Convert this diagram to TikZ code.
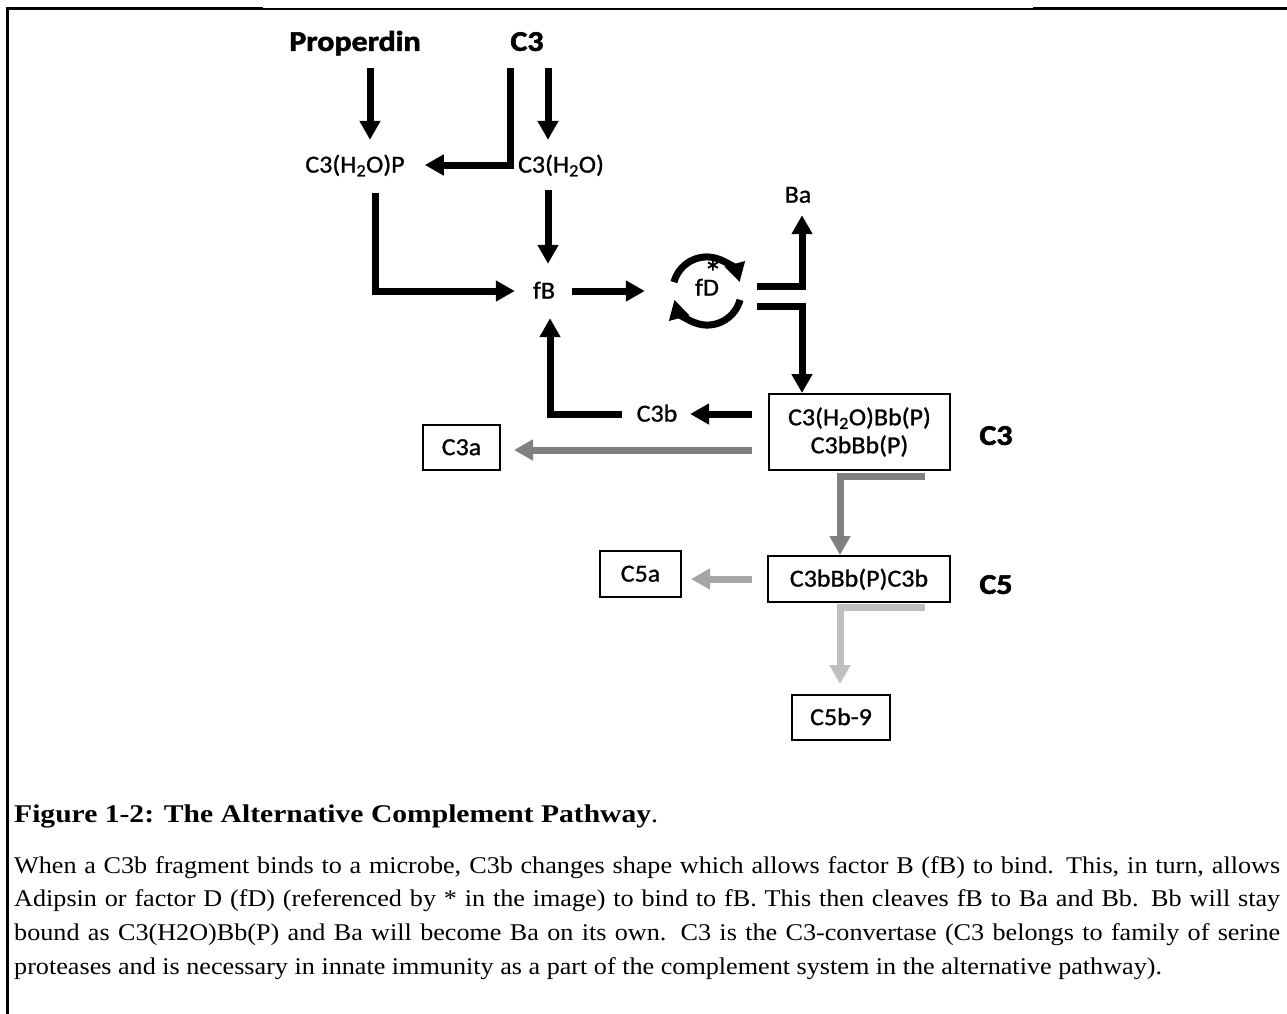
\documentclass[tikz,border=0pt]{standalone}
\usepackage{fontspec}
\usepackage{xcolor}
\usepackage{tikz}
\usetikzlibrary{arrows.meta,positioning}
\newfontfamily\diagfont[FakeStretch=1.06,FakeBold=1,BoldFeatures={FakeStretch=1.12,FakeBold=2}]{Carlito}
\newfontfamily\captfont[FakeStretch=1.09,BoldFeatures={FakeStretch=1.16}]{Liberation Serif}
\definecolor{MidGray}{HTML}{808080}
\definecolor{LightGray}{HTML}{A6A6A6}
\definecolor{PaleGray}{HTML}{BFBFBF}

\begin{document}
\begin{tikzpicture}[x=1pt,y=1pt,
  txt/.style={inner sep=0pt,text height=20pt,text depth=4.8pt,font=\diagfont\fontsize{24.5}{28}\selectfont},
  headtxt/.style={inner sep=0pt,text height=23pt,text depth=5.3pt,font=\diagfont\bfseries\fontsize{28.5}{32}\selectfont},
  pathbox/.style={draw,line width=2pt,inner sep=0pt,align=center,font=\diagfont\fontsize{24.5}{28}\selectfont},
  tagbox/.style={pathbox,text height=20pt,text depth=4.8pt},
  arrow/.style={-{Triangle[length=19pt,width=20pt]},line width=7pt}
]
\useasboundingbox (0,0) rectangle (1287,-1014);
\fill[white] (0,0) rectangle (1287,-1014);
% frame
\draw[line width=3pt] (7,-1014) -- (7,-9) -- (263,-9);
\draw[line width=1.8pt] (263,-9) -- (1033,-9);
\draw[line width=3pt] (1033,-9) -- (1287,-9);

% top sources
\node[headtxt] (prop) at (355,-42) {Properdin};
\node[headtxt] (c3top) at (527,-42) {C3};
\node[txt] (c3hp) at (355,-165) {C3(H\textsubscript{2}O)P};
\node[txt] (c3h) at (561,-165) {C3(H\textsubscript{2}O)};
\node[txt] (fb) at (544,-291) {fB};
\node[circle,inner sep=0pt,minimum size=68pt,text height=20pt,text depth=10.8pt,font=\diagfont\fontsize{24.5}{28}\selectfont] (fdc) at (707,-291) {fD\llap{\raisebox{11.5pt}{\fontsize{34}{34}\selectfont*}\kern-3pt}};
\node[txt] (ba) at (798,-195) {Ba};

% convertases
\node[pathbox,minimum width=181pt,minimum height=76pt] (box1) at (859.5,-432) {C3(H\textsubscript{2}O)Bb(P)\\C3bBb(P)};
\node[headtxt] (lc3) at (996,-436) {C3};
\node[txt] (c3b) at (657,-414) {C3b};
\node[tagbox,minimum width=77pt,minimum height=45pt] (c3a) at (461.5,-447.5) {C3a};
\node[tagbox,minimum width=182pt,minimum height=46pt] (box2) at (859,-579) {C3bBb(P)C3b};
\node[headtxt] (lc5) at (996,-585) {C5};
\node[tagbox,minimum width=81pt,minimum height=46pt] (c5a) at (640.5,-574) {C5a};
\node[tagbox,minimum width=98pt,minimum height=45pt] (c5b) at (841,-717.5) {C5b-9};

% black arrows
\draw[arrow,shorten <=12pt,shorten >=12.6pt] ([xshift=15pt]prop.south) -- ([xshift=15pt]c3hp.north);
\draw[arrow,shorten <=12pt,shorten >=20pt] ([xshift=-17pt]c3top.south) |- (c3hp.east);
\draw[arrow,shorten <=12pt,shorten >=12.6pt] ([xshift=21pt]c3top.south) -- ([xshift=21pt]c3top.south |- c3h.north);
\draw[arrow,shorten <=15.6pt,shorten >=18pt] ([xshift=20pt]c3hp.south) |- (fb.west);
\draw[arrow,shorten <=12.6pt,shorten >=14.6pt] ([xshift=-13pt]c3h.south) -- ([xshift=-13pt]c3h.south |- fb.north);
\draw[arrow,shorten <=17pt,shorten >=28pt] (fb) -- (fdc);
\draw[arrow] (fdc.165) arc[start angle=165,end angle=15,radius=34pt];
\draw[arrow] (fdc.-15) arc[start angle=-15,end angle=-165,radius=34pt];
\draw[arrow,shorten <=16pt,shorten >=7.6pt] ([yshift=5pt]fdc.east) -| ([xshift=4pt]ba.south);
\draw[arrow,shorten <=16pt] ([yshift=-15pt]fdc.east) -| ([xshift=-57.5pt]box1.north);
\draw[arrow,shorten <=16pt,shorten >=12.6pt] ([yshift=18pt]box1.west) -- ([yshift=18pt]box1.west -| c3b.east);
\draw[arrow,shorten <=14.6pt,shorten >=14.6pt] (c3b.west) -| ([xshift=6pt]fb.south);

% grey arrows
\draw[arrow,MidGray,shorten <=16pt,shorten >=13pt] ([yshift=-18pt]box1.west) -- ([yshift=-18pt]box1.west -| c3a.east);
\draw[arrow,MidGray] ([xshift=65.5pt,yshift=-5pt]box1.south) -| ([xshift=-19pt]box2.north);
\draw[arrow,LightGray,shorten <=15pt,shorten >=9pt] (box2.west) -- (box2.west -| c5a.east);
\draw[arrow,PaleGray,shorten >=10pt] ([xshift=66pt,yshift=-4pt]box2.south) -| ([xshift=-1pt]c5b.north);

% caption
\node[anchor=base west,inner sep=0pt,font=\captfont\fontsize{25.5}{30}\selectfont] (figtitle) at (14,-822) {\textbf{Figure 1-2: The Alternative Complement Pathway}.};
\node[anchor=north west,inner sep=0pt,text width=1266pt,align=justify,font=\captfont\fontsize{24}{33.7}\selectfont] (figtext) at (14,-856) {When a C3b fragment binds to a microbe, C3b changes shape which allows factor B (fB) to bind. This, in turn, allows\linebreak Adipsin or factor D (fD) (referenced by * in the image) to bind to fB. This then cleaves fB to Ba and Bb. Bb will stay\linebreak bound as C3(H2O)Bb(P) and Ba will become Ba on its own. C3 is the C3-convertase (C3 belongs to family of serine\linebreak proteases and is necessary in innate immunity as a part of the complement system in the alternative pathway).};
\end{tikzpicture}
\end{document}
